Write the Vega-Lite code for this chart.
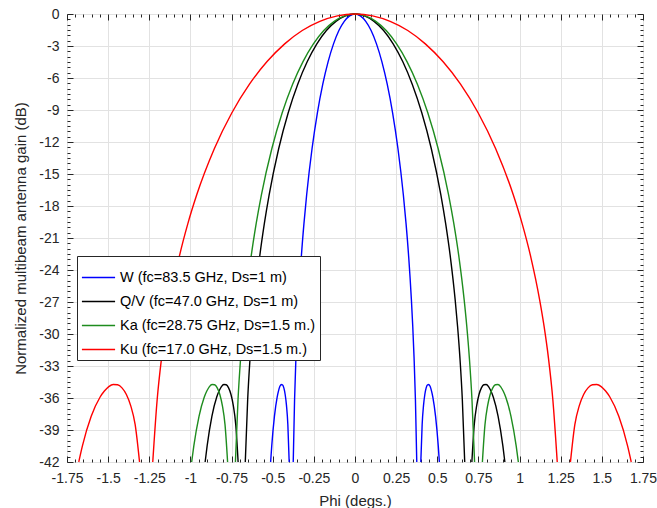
{
"$schema": "https://vega.github.io/schema/vega-lite/v6.json",
"width": 576, "height": 448,
"autosize": {"type": "none"},
"padding": {"left": 67, "top": 14, "right": 14, "bottom": 46},
"background": "white",
"config": {"font": "Liberation Sans", "view": {"stroke": "#262626", "strokeWidth": 1}},
"data": {"values": [
{"s":"W","g":"m","x":-0.3753,"y":-42},{"s":"W","g":"m","x":-0.3672,"y":-36.16},{"s":"W","g":"m","x":-0.359,"y":-32.26},{"s":"W","g":"m","x":-0.3509,"y":-29.27},{"s":"W","g":"m","x":-0.3427,"y":-26.8},{"s":"W","g":"m","x":-0.3264,"y":-22.81},{"s":"W","g":"m","x":-0.3101,"y":-19.63},{"s":"W","g":"m","x":-0.2937,"y":-16.95},{"s":"W","g":"m","x":-0.2611,"y":-12.63},{"s":"W","g":"m","x":-0.2285,"y":-9.26},{"s":"W","g":"m","x":-0.1958,"y":-6.58},{"s":"W","g":"m","x":-0.1632,"y":-4.46},{"s":"W","g":"m","x":-0.1305,"y":-2.8},{"s":"W","g":"m","x":-0.0979,"y":-1.55},{"s":"W","g":"m","x":-0.0653,"y":-0.69},{"s":"W","g":"m","x":-0.0326,"y":-0.17},{"s":"W","g":"m","x":0,"y":0},
{"s":"W","g":"m","x":0.0326,"y":-0.17},{"s":"W","g":"m","x":0.0653,"y":-0.69},{"s":"W","g":"m","x":0.0979,"y":-1.55},{"s":"W","g":"m","x":0.1305,"y":-2.8},{"s":"W","g":"m","x":0.1632,"y":-4.46},{"s":"W","g":"m","x":0.1958,"y":-6.58},{"s":"W","g":"m","x":0.2285,"y":-9.26},{"s":"W","g":"m","x":0.2611,"y":-12.63},{"s":"W","g":"m","x":0.2937,"y":-16.95},{"s":"W","g":"m","x":0.3101,"y":-19.63},{"s":"W","g":"m","x":0.3264,"y":-22.81},{"s":"W","g":"m","x":0.3427,"y":-26.8},{"s":"W","g":"m","x":0.3509,"y":-29.27},{"s":"W","g":"m","x":0.359,"y":-32.26},{"s":"W","g":"m","x":0.3672,"y":-36.16},{"s":"W","g":"m","x":0.3753,"y":-42},
{"s":"W","g":"l","x":-0.5127,"y":-42},{"s":"W","g":"l","x":-0.5059,"y":-40.49},{"s":"W","g":"l","x":-0.4896,"y":-37.72},{"s":"W","g":"l","x":-0.4732,"y":-35.93},{"s":"W","g":"l","x":-0.4651,"y":-35.35},{"s":"W","g":"l","x":-0.4569,"y":-34.93},{"s":"W","g":"l","x":-0.4488,"y":-34.73},{"s":"W","g":"l","x":-0.4406,"y":-34.76},{"s":"W","g":"l","x":-0.4324,"y":-35.05},{"s":"W","g":"l","x":-0.4243,"y":-35.67},{"s":"W","g":"l","x":-0.4161,"y":-36.74},{"s":"W","g":"l","x":-0.408,"y":-38.5},{"s":"W","g":"l","x":-0.3999,"y":-42},
{"s":"W","g":"r","x":0.3999,"y":-42},{"s":"W","g":"r","x":0.408,"y":-38.5},{"s":"W","g":"r","x":0.4161,"y":-36.74},{"s":"W","g":"r","x":0.4243,"y":-35.67},{"s":"W","g":"r","x":0.4324,"y":-35.05},{"s":"W","g":"r","x":0.4406,"y":-34.76},{"s":"W","g":"r","x":0.4488,"y":-34.73},{"s":"W","g":"r","x":0.4569,"y":-34.93},{"s":"W","g":"r","x":0.4651,"y":-35.35},{"s":"W","g":"r","x":0.4732,"y":-35.93},{"s":"W","g":"r","x":0.4896,"y":-37.72},{"s":"W","g":"r","x":0.5059,"y":-40.49},{"s":"W","g":"r","x":0.5127,"y":-42},

{"s":"QV","g":"m","x":-0.6667,"y":-42},{"s":"QV","g":"m","x":-0.6522,"y":-36.16},{"s":"QV","g":"m","x":-0.6377,"y":-32.26},{"s":"QV","g":"m","x":-0.6232,"y":-29.27},{"s":"QV","g":"m","x":-0.6087,"y":-26.8},{"s":"QV","g":"m","x":-0.5797,"y":-22.81},{"s":"QV","g":"m","x":-0.5507,"y":-19.63},{"s":"QV","g":"m","x":-0.5217,"y":-16.95},{"s":"QV","g":"m","x":-0.4638,"y":-12.63},{"s":"QV","g":"m","x":-0.4058,"y":-9.26},{"s":"QV","g":"m","x":-0.3478,"y":-6.58},{"s":"QV","g":"m","x":-0.2899,"y":-4.46},{"s":"QV","g":"m","x":-0.2319,"y":-2.8},{"s":"QV","g":"m","x":-0.1739,"y":-1.55},{"s":"QV","g":"m","x":-0.1159,"y":-0.69},{"s":"QV","g":"m","x":-0.058,"y":-0.17},{"s":"QV","g":"m","x":0,"y":0},
{"s":"QV","g":"m","x":0.058,"y":-0.17},{"s":"QV","g":"m","x":0.1159,"y":-0.69},{"s":"QV","g":"m","x":0.1739,"y":-1.55},{"s":"QV","g":"m","x":0.2319,"y":-2.8},{"s":"QV","g":"m","x":0.2899,"y":-4.46},{"s":"QV","g":"m","x":0.3478,"y":-6.58},{"s":"QV","g":"m","x":0.4058,"y":-9.26},{"s":"QV","g":"m","x":0.4638,"y":-12.63},{"s":"QV","g":"m","x":0.5217,"y":-16.95},{"s":"QV","g":"m","x":0.5507,"y":-19.63},{"s":"QV","g":"m","x":0.5797,"y":-22.81},{"s":"QV","g":"m","x":0.6087,"y":-26.8},{"s":"QV","g":"m","x":0.6232,"y":-29.27},{"s":"QV","g":"m","x":0.6377,"y":-32.26},{"s":"QV","g":"m","x":0.6522,"y":-36.16},{"s":"QV","g":"m","x":0.6667,"y":-42},
{"s":"QV","g":"l","x":-0.9106,"y":-42},{"s":"QV","g":"l","x":-0.8985,"y":-40.49},{"s":"QV","g":"l","x":-0.8696,"y":-37.72},{"s":"QV","g":"l","x":-0.8406,"y":-35.93},{"s":"QV","g":"l","x":-0.8261,"y":-35.35},{"s":"QV","g":"l","x":-0.8116,"y":-34.93},{"s":"QV","g":"l","x":-0.7971,"y":-34.73},{"s":"QV","g":"l","x":-0.7826,"y":-34.76},{"s":"QV","g":"l","x":-0.7681,"y":-35.05},{"s":"QV","g":"l","x":-0.7536,"y":-35.67},{"s":"QV","g":"l","x":-0.7391,"y":-36.74},{"s":"QV","g":"l","x":-0.7246,"y":-38.5},{"s":"QV","g":"l","x":-0.7102,"y":-42},
{"s":"QV","g":"r","x":0.7102,"y":-42},{"s":"QV","g":"r","x":0.7246,"y":-38.5},{"s":"QV","g":"r","x":0.7391,"y":-36.74},{"s":"QV","g":"r","x":0.7536,"y":-35.67},{"s":"QV","g":"r","x":0.7681,"y":-35.05},{"s":"QV","g":"r","x":0.7826,"y":-34.76},{"s":"QV","g":"r","x":0.7971,"y":-34.73},{"s":"QV","g":"r","x":0.8116,"y":-34.93},{"s":"QV","g":"r","x":0.8261,"y":-35.35},{"s":"QV","g":"r","x":0.8406,"y":-35.93},{"s":"QV","g":"r","x":0.8696,"y":-37.72},{"s":"QV","g":"r","x":0.8985,"y":-40.49},{"s":"QV","g":"r","x":0.9106,"y":-42},

{"s":"Ka","g":"m","x":-0.7266,"y":-42},{"s":"Ka","g":"m","x":-0.7108,"y":-36.16},{"s":"Ka","g":"m","x":-0.695,"y":-32.26},{"s":"Ka","g":"m","x":-0.6792,"y":-29.27},{"s":"Ka","g":"m","x":-0.6634,"y":-26.8},{"s":"Ka","g":"m","x":-0.6319,"y":-22.81},{"s":"Ka","g":"m","x":-0.6003,"y":-19.63},{"s":"Ka","g":"m","x":-0.5687,"y":-16.95},{"s":"Ka","g":"m","x":-0.5055,"y":-12.63},{"s":"Ka","g":"m","x":-0.4423,"y":-9.26},{"s":"Ka","g":"m","x":-0.3791,"y":-6.58},{"s":"Ka","g":"m","x":-0.3159,"y":-4.46},{"s":"Ka","g":"m","x":-0.2527,"y":-2.8},{"s":"Ka","g":"m","x":-0.1896,"y":-1.55},{"s":"Ka","g":"m","x":-0.1264,"y":-0.69},{"s":"Ka","g":"m","x":-0.0632,"y":-0.17},{"s":"Ka","g":"m","x":0,"y":0},
{"s":"Ka","g":"m","x":0.0632,"y":-0.17},{"s":"Ka","g":"m","x":0.1264,"y":-0.69},{"s":"Ka","g":"m","x":0.1896,"y":-1.55},{"s":"Ka","g":"m","x":0.2527,"y":-2.8},{"s":"Ka","g":"m","x":0.3159,"y":-4.46},{"s":"Ka","g":"m","x":0.3791,"y":-6.58},{"s":"Ka","g":"m","x":0.4423,"y":-9.26},{"s":"Ka","g":"m","x":0.5055,"y":-12.63},{"s":"Ka","g":"m","x":0.5687,"y":-16.95},{"s":"Ka","g":"m","x":0.6003,"y":-19.63},{"s":"Ka","g":"m","x":0.6319,"y":-22.81},{"s":"Ka","g":"m","x":0.6634,"y":-26.8},{"s":"Ka","g":"m","x":0.6792,"y":-29.27},{"s":"Ka","g":"m","x":0.695,"y":-32.26},{"s":"Ka","g":"m","x":0.7108,"y":-36.16},{"s":"Ka","g":"m","x":0.7266,"y":-42},
{"s":"Ka","g":"l","x":-0.9925,"y":-42},{"s":"Ka","g":"l","x":-0.9794,"y":-40.49},{"s":"Ka","g":"l","x":-0.9478,"y":-37.72},{"s":"Ka","g":"l","x":-0.9162,"y":-35.93},{"s":"Ka","g":"l","x":-0.9004,"y":-35.35},{"s":"Ka","g":"l","x":-0.8846,"y":-34.93},{"s":"Ka","g":"l","x":-0.8688,"y":-34.73},{"s":"Ka","g":"l","x":-0.853,"y":-34.76},{"s":"Ka","g":"l","x":-0.8372,"y":-35.05},{"s":"Ka","g":"l","x":-0.8214,"y":-35.67},{"s":"Ka","g":"l","x":-0.8056,"y":-36.74},{"s":"Ka","g":"l","x":-0.7898,"y":-38.5},{"s":"Ka","g":"l","x":-0.7741,"y":-42},
{"s":"Ka","g":"r","x":0.7741,"y":-42},{"s":"Ka","g":"r","x":0.7898,"y":-38.5},{"s":"Ka","g":"r","x":0.8056,"y":-36.74},{"s":"Ka","g":"r","x":0.8214,"y":-35.67},{"s":"Ka","g":"r","x":0.8372,"y":-35.05},{"s":"Ka","g":"r","x":0.853,"y":-34.76},{"s":"Ka","g":"r","x":0.8688,"y":-34.73},{"s":"Ka","g":"r","x":0.8846,"y":-34.93},{"s":"Ka","g":"r","x":0.9004,"y":-35.35},{"s":"Ka","g":"r","x":0.9162,"y":-35.93},{"s":"Ka","g":"r","x":0.9478,"y":-37.72},{"s":"Ka","g":"r","x":0.9794,"y":-40.49},{"s":"Ka","g":"r","x":0.9925,"y":-42},

{"s":"Ku","g":"m","x":-1.2289,"y":-42},{"s":"Ku","g":"m","x":-1.2022,"y":-36.16},{"s":"Ku","g":"m","x":-1.1755,"y":-32.26},{"s":"Ku","g":"m","x":-1.1488,"y":-29.27},{"s":"Ku","g":"m","x":-1.122,"y":-26.8},{"s":"Ku","g":"m","x":-1.0686,"y":-22.81},{"s":"Ku","g":"m","x":-1.0152,"y":-19.63},{"s":"Ku","g":"m","x":-0.9617,"y":-16.95},{"s":"Ku","g":"m","x":-0.8549,"y":-12.63},{"s":"Ku","g":"m","x":-0.748,"y":-9.26},{"s":"Ku","g":"m","x":-0.6412,"y":-6.58},{"s":"Ku","g":"m","x":-0.5343,"y":-4.46},{"s":"Ku","g":"m","x":-0.4274,"y":-2.8},{"s":"Ku","g":"m","x":-0.3206,"y":-1.55},{"s":"Ku","g":"m","x":-0.2137,"y":-0.69},{"s":"Ku","g":"m","x":-0.1069,"y":-0.17},{"s":"Ku","g":"m","x":0,"y":0},
{"s":"Ku","g":"m","x":0.1069,"y":-0.17},{"s":"Ku","g":"m","x":0.2137,"y":-0.69},{"s":"Ku","g":"m","x":0.3206,"y":-1.55},{"s":"Ku","g":"m","x":0.4274,"y":-2.8},{"s":"Ku","g":"m","x":0.5343,"y":-4.46},{"s":"Ku","g":"m","x":0.6412,"y":-6.58},{"s":"Ku","g":"m","x":0.748,"y":-9.26},{"s":"Ku","g":"m","x":0.8549,"y":-12.63},{"s":"Ku","g":"m","x":0.9617,"y":-16.95},{"s":"Ku","g":"m","x":1.0152,"y":-19.63},{"s":"Ku","g":"m","x":1.0686,"y":-22.81},{"s":"Ku","g":"m","x":1.122,"y":-26.8},{"s":"Ku","g":"m","x":1.1488,"y":-29.27},{"s":"Ku","g":"m","x":1.1755,"y":-32.26},{"s":"Ku","g":"m","x":1.2022,"y":-36.16},{"s":"Ku","g":"m","x":1.2289,"y":-42},
{"s":"Ku","g":"l","x":-1.6786,"y":-42},{"s":"Ku","g":"l","x":-1.6563,"y":-40.49},{"s":"Ku","g":"l","x":-1.6029,"y":-37.72},{"s":"Ku","g":"l","x":-1.5495,"y":-35.93},{"s":"Ku","g":"l","x":-1.5228,"y":-35.35},{"s":"Ku","g":"l","x":-1.496,"y":-34.93},{"s":"Ku","g":"l","x":-1.4693,"y":-34.73},{"s":"Ku","g":"l","x":-1.4426,"y":-34.76},{"s":"Ku","g":"l","x":-1.4159,"y":-35.05},{"s":"Ku","g":"l","x":-1.3892,"y":-35.67},{"s":"Ku","g":"l","x":-1.3625,"y":-36.74},{"s":"Ku","g":"l","x":-1.3358,"y":-38.5},{"s":"Ku","g":"l","x":-1.3092,"y":-42},
{"s":"Ku","g":"r","x":1.3092,"y":-42},{"s":"Ku","g":"r","x":1.3358,"y":-38.5},{"s":"Ku","g":"r","x":1.3625,"y":-36.74},{"s":"Ku","g":"r","x":1.3892,"y":-35.67},{"s":"Ku","g":"r","x":1.4159,"y":-35.05},{"s":"Ku","g":"r","x":1.4426,"y":-34.76},{"s":"Ku","g":"r","x":1.4693,"y":-34.73},{"s":"Ku","g":"r","x":1.496,"y":-34.93},{"s":"Ku","g":"r","x":1.5228,"y":-35.35},{"s":"Ku","g":"r","x":1.5495,"y":-35.93},{"s":"Ku","g":"r","x":1.6029,"y":-37.72},{"s":"Ku","g":"r","x":1.6563,"y":-40.49},{"s":"Ku","g":"r","x":1.6786,"y":-42}
]},
"layer": [
{"mark": {"type": "line", "strokeWidth": 1.4, "interpolate": "monotone"},
 "encoding": {
  "x": {"field": "x", "type": "quantitative", "scale": {"domain": [-1.75, 1.75], "nice": false, "zero": false},
   "axis": {"orient": "bottom", "values": [-1.75,-1.5,-1.25,-1,-0.75,-0.5,-0.25,0,0.25,0.5,0.75,1,1.25,1.5,1.75],
    "labelExpr": "'' + datum.value", "labelFlush": false, "labelOverlap": false, "grid": true, "gridColor": "#e2e2e2", "gridWidth": 1,
    "domain": false, "tickSize": -6, "tickColor": "#262626", "labelFontSize": 14, "labelColor": "#262626", "labelPadding": 15,
    "title": "Phi (degs.)", "titleFontSize": 15, "titleFontWeight": "normal", "titleColor": "#262626", "titlePadding": 8}},
  "y": {"field": "y", "type": "quantitative", "scale": {"domain": [-42, 0], "nice": false, "zero": false},
   "axis": {"orient": "left", "values": [-42,-39,-36,-33,-30,-27,-24,-21,-18,-15,-12,-9,-6,-3,0],
    "labelExpr": "'' + datum.value", "labelFlush": false, "labelOverlap": false, "grid": true, "gridColor": "#e2e2e2", "gridWidth": 1,
    "domain": false, "tickSize": -6, "tickColor": "#262626", "labelFontSize": 14, "labelColor": "#262626", "labelPadding": 14,
    "title": "Normalized multibeam antenna gain (dB)", "titleFontSize": 15, "titleFontWeight": "normal", "titleColor": "#262626", "titlePadding": 10}},
  "color": {"field": "s", "type": "nominal",
   "scale": {"domain": ["W", "QV", "Ka", "Ku"], "range": ["#0000ff", "#000000", "#1e8c1e", "#ff0000"]},
   "legend": {"orient": "none", "legendX": 10, "legendY": 242, "title": null,
    "labelExpr": "datum.label == 'W' ? 'W (fc=83.5 GHz, Ds=1 m)' : datum.label == 'QV' ? 'Q/V (fc=47.0 GHz, Ds=1 m)' : datum.label == 'Ka' ? 'Ka (fc=28.75 GHz, Ds=1.5 m.)' : 'Ku (fc=17.0 GHz, Ds=1.5 m.)'",
    "symbolType": "stroke", "symbolSize": 1100, "symbolStrokeWidth": 1.4, "labelFontSize": 14.5, "labelColor": "#000000",
    "strokeColor": "#262626", "fillColor": "white", "padding": 4, "rowPadding": -2, "labelOffset": 4, "labelLimit": 400}},
  "detail": {"field": "g"}
 }},
{"mark": {"type": "point", "opacity": 0},
 "encoding": {
  "x": {"field": "x", "type": "quantitative", "axis": {"orient": "top", "values": [-1.75,-1.5,-1.25,-1,-0.75,-0.5,-0.25,0,0.25,0.5,0.75,1,1.25,1.5,1.75], "labels": false, "grid": false, "domain": false, "tickSize": -6, "tickColor": "#262626", "title": null}},
  "y": {"field": "y", "type": "quantitative", "axis": {"orient": "right", "values": [-42,-39,-36,-33,-30,-27,-24,-21,-18,-15,-12,-9,-6,-3,0], "labels": false, "grid": false, "domain": false, "tickSize": -6, "tickColor": "#262626", "title": null}}
 }},
{"mark": {"type": "point", "opacity": 0},
 "encoding": {
  "x": {"field": "x", "type": "quantitative", "axis": {"orient": "bottom", "values": [-1.7,-1.65,-1.6,-1.55,-1.45,-1.4,-1.35,-1.3,-1.2,-1.15,-1.1,-1.05,-0.95,-0.9,-0.85,-0.8,-0.7,-0.65,-0.6,-0.55,-0.45,-0.4,-0.35,-0.3,-0.2,-0.15,-0.1,-0.05,0.05,0.1,0.15,0.2,0.3,0.35,0.4,0.45,0.55,0.6,0.65,0.7,0.8,0.85,0.9,0.95,1.05,1.1,1.15,1.2,1.3,1.35,1.4,1.45,1.55,1.6,1.65,1.7], "labels": false, "grid": false, "domain": false, "tickSize": -3, "tickColor": "#262626", "title": null}},
  "y": {"field": "y", "type": "quantitative", "axis": {"orient": "left", "values": [-41.5,-41,-40.5,-40,-39.5,-38.5,-38,-37.5,-37,-36.5,-35.5,-35,-34.5,-34,-33.5,-32.5,-32,-31.5,-31,-30.5,-29.5,-29,-28.5,-28,-27.5,-26.5,-26,-25.5,-25,-24.5,-23.5,-23,-22.5,-22,-21.5,-20.5,-20,-19.5,-19,-18.5,-17.5,-17,-16.5,-16,-15.5,-14.5,-14,-13.5,-13,-12.5,-11.5,-11,-10.5,-10,-9.5,-8.5,-8,-7.5,-7,-6.5,-5.5,-5,-4.5,-4,-3.5,-2.5,-2,-1.5,-1,-0.5], "labels": false, "grid": false, "domain": false, "tickSize": -3, "tickColor": "#262626", "title": null}}
 }},
{"mark": {"type": "point", "opacity": 0},
 "encoding": {
  "x": {"field": "x", "type": "quantitative", "axis": {"orient": "top", "values": [-1.7,-1.65,-1.6,-1.55,-1.45,-1.4,-1.35,-1.3,-1.2,-1.15,-1.1,-1.05,-0.95,-0.9,-0.85,-0.8,-0.7,-0.65,-0.6,-0.55,-0.45,-0.4,-0.35,-0.3,-0.2,-0.15,-0.1,-0.05,0.05,0.1,0.15,0.2,0.3,0.35,0.4,0.45,0.55,0.6,0.65,0.7,0.8,0.85,0.9,0.95,1.05,1.1,1.15,1.2,1.3,1.35,1.4,1.45,1.55,1.6,1.65,1.7], "labels": false, "grid": false, "domain": false, "tickSize": -3, "tickColor": "#262626", "title": null}},
  "y": {"field": "y", "type": "quantitative", "axis": {"orient": "right", "values": [-41.5,-41,-40.5,-40,-39.5,-38.5,-38,-37.5,-37,-36.5,-35.5,-35,-34.5,-34,-33.5,-32.5,-32,-31.5,-31,-30.5,-29.5,-29,-28.5,-28,-27.5,-26.5,-26,-25.5,-25,-24.5,-23.5,-23,-22.5,-22,-21.5,-20.5,-20,-19.5,-19,-18.5,-17.5,-17,-16.5,-16,-15.5,-14.5,-14,-13.5,-13,-12.5,-11.5,-11,-10.5,-10,-9.5,-8.5,-8,-7.5,-7,-6.5,-5.5,-5,-4.5,-4,-3.5,-2.5,-2,-1.5,-1,-0.5], "labels": false, "grid": false, "domain": false, "tickSize": -3, "tickColor": "#262626", "title": null}}
 }}
],
"resolve": {"axis": {"x": "independent", "y": "independent"}}
}
